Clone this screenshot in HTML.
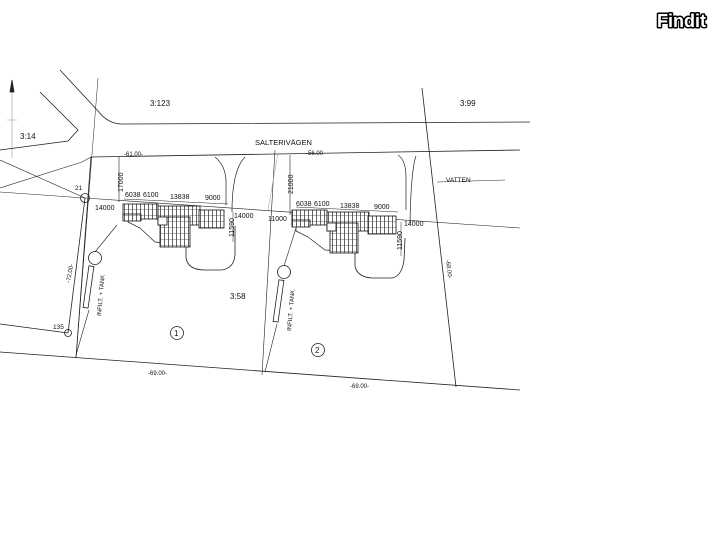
<!DOCTYPE html>
<html><head><meta charset="utf-8"><style>
html,body{margin:0;padding:0;background:#fff;}
svg{display:block;font-family:"Liberation Sans",sans-serif;}
</style></head><body>
<svg width="728" height="546" viewBox="0 0 728 546">
<defs>
<pattern id="h" width="4" height="6" patternUnits="userSpaceOnUse"><rect width="4" height="6" fill="#fff"/><line x1="0.5" y1="0" x2="0.5" y2="6" stroke="#222" stroke-width="0.7"/><line x1="0" y1="5.5" x2="4" y2="5.5" stroke="#444" stroke-width="0.4"/></pattern>
</defs>
<g fill="none" stroke="#222" stroke-width="0.8">
<line x1="12" y1="80" x2="12" y2="158" stroke="#999" stroke-width="0.6"/>
<polygon points="12,80 10,92 14,92" fill="#222"/>
<line x1="7" y1="120" x2="17" y2="120" stroke="#bbb"/>
<path d="M60,70 L98,111 Q108,124 122,124 L530,122"/>
<path d="M40,92 L78,130 L68,141 L0,150"/>
<path d="M0,160 L85,198" stroke-width="0.6"/>
<path d="M0,188 L82,162 L91,157" stroke-width="0.6"/>
<path d="M91,157 L520,150"/>
<path d="M0,192 L85,198 L520,228" stroke-width="0.6"/>
<line x1="98" y1="78" x2="76" y2="358" stroke-width="0.5"/>
<line x1="91" y1="157" x2="76" y2="358"/>
<path d="M68,333 L85,198"/>
<path d="M0,324 L68,333"/>
<path d="M0,352 L520,390"/>
<line x1="275" y1="150" x2="262" y2="375" stroke-width="0.6"/>
<line x1="422" y1="88" x2="456" y2="387"/>
<line x1="278" y1="153" x2="268" y2="210" stroke="#999" stroke-width="0.5"/>
<circle cx="85" cy="198" r="4.5"/>
<circle cx="68" cy="333" r="3.5"/>
<line x1="119" y1="157" x2="119" y2="202" stroke-width="0.6"/>
<line x1="290" y1="155" x2="290" y2="215" stroke-width="0.6"/>
<line x1="124" y1="199" x2="228" y2="204" stroke-width="0.5"/>
<line x1="296" y1="207" x2="398" y2="212" stroke-width="0.5"/>
<line x1="233" y1="212" x2="233" y2="242" stroke-width="0.5"/>
<line x1="401" y1="222" x2="401" y2="256" stroke-width="0.5"/>
<line x1="437" y1="182" x2="505" y2="180" stroke-width="0.5"/>
<path d="M215,157 Q225,165 226,180 L226,205 M232,212 Q232,170 245,157" stroke-width="0.7"/>
<path d="M186,233 L186,258 Q188,270 205,270 L222,270 Q234,268 235,255 L235,226"/>
<path d="M398,155 Q406,160 406,178 L406,210 M410,223 Q411,170 416,156" stroke-width="0.7"/>
<path d="M355,250 L355,266 Q357,277 372,278 L392,278 Q402,276 404,260 L405,238"/>
<path d="M128,218 L128,222 L140,228 L155,242 L186,245 L186,235" stroke-width="0.7"/>
<path d="M296,225 L296,231 L308,237 L325,250 L355,252 L355,244" stroke-width="0.7"/>
<line x1="117" y1="225" x2="95" y2="252" stroke-width="0.6"/>
<circle cx="95" cy="258" r="6.5"/>
<rect x="86" y="266" width="5" height="42" transform="rotate(8 89 287)"/>
<line x1="89" y1="310" x2="76" y2="355" stroke-width="0.6"/>
<line x1="296" y1="228" x2="284" y2="266" stroke-width="0.6"/>
<circle cx="284" cy="272" r="6.5"/>
<rect x="276" y="280" width="5" height="42" transform="rotate(8 279 301)"/>
<line x1="277" y1="324" x2="265" y2="372" stroke-width="0.6"/>
<circle cx="177" cy="333" r="6.5"/>
<circle cx="318" cy="350" r="6.5"/>
</g>
<g stroke="#111" stroke-width="0.8">
<rect x="123" y="204" width="35" height="15" fill="url(#h)"/>
<rect x="123" y="214" width="18" height="7" fill="url(#h)"/>
<rect x="158" y="206" width="42" height="19" fill="url(#h)"/>
<rect x="160" y="217" width="30" height="30" fill="url(#h)"/>
<rect x="158" y="217" width="9" height="8" fill="#fff"/>
<rect x="199" y="210" width="25" height="18" fill="url(#h)"/>
<rect x="292" y="210" width="35" height="15" fill="url(#h)"/>
<rect x="292" y="220" width="18" height="7" fill="url(#h)"/>
<rect x="327" y="212" width="42" height="19" fill="url(#h)"/>
<rect x="330" y="223" width="28" height="30" fill="url(#h)"/>
<rect x="327" y="223" width="9" height="8" fill="#fff"/>
<rect x="368" y="216" width="28" height="18" fill="url(#h)"/>
</g>
<g fill="#111" font-size="7">
<text x="150" y="106" font-size="8">3:123</text>
<text x="460" y="106" font-size="8">3:99</text>
<text x="20" y="139" font-size="8">3:14</text>
<text x="255" y="145" font-size="7.5">SALTERIVÄGEN</text>
<text x="124" y="156" font-size="6">-61.00-</text>
<text x="306" y="155" font-size="6">-56.00-</text>
<text x="446" y="182" font-size="6.5">VATTEN</text>
<text x="75" y="190" font-size="6.5">21</text>
<text x="53" y="329" font-size="6.5">135</text>
<text x="230" y="299" font-size="8">3:58</text>
<text x="174" y="336" font-size="8">1</text>
<text x="315" y="353" font-size="8">2</text>
<text x="148" y="375" font-size="6">-69.00-</text>
<text x="350" y="388" font-size="6">-69.00-</text>
<text x="125" y="197" font-size="7">6038</text><text x="143" y="197" font-size="7">6100</text>
<text x="170" y="199" font-size="7">13838</text><text x="205" y="200" font-size="7">9000</text>
<text x="296" y="206" font-size="7">6038</text><text x="314" y="206" font-size="7">6100</text>
<text x="340" y="208" font-size="7">13838</text><text x="374" y="209" font-size="7">9000</text>
<text x="95" y="210" font-size="7">14000</text>
<text x="234" y="218" font-size="7">14000</text>
<text x="268" y="221" font-size="7">11000</text>
<text x="404" y="226" font-size="7">14000</text>
<text transform="translate(123,192) rotate(-90)" font-size="7">17000</text>
<text transform="translate(293,194) rotate(-90)" font-size="7">21000</text>
<text transform="translate(234,237) rotate(-90)" font-size="7">11590</text>
<text transform="translate(402,250) rotate(-90)" font-size="7">11590</text>
<text transform="translate(70,283) rotate(-80)" font-size="6">-72.00-</text>
<text transform="translate(446,260) rotate(83)" font-size="6">-68.00-</text>
<text transform="translate(101,316) rotate(-85)" font-size="6">INFILT. + TANK</text>
<text transform="translate(291,331) rotate(-85)" font-size="6">INFILT. + TANK</text>
</g>
<text x="657" y="27" font-size="18" font-weight="bold" fill="#fff" stroke="#000" stroke-width="3" paint-order="stroke" stroke-linejoin="round">Findit</text>
</svg>
</body></html>
